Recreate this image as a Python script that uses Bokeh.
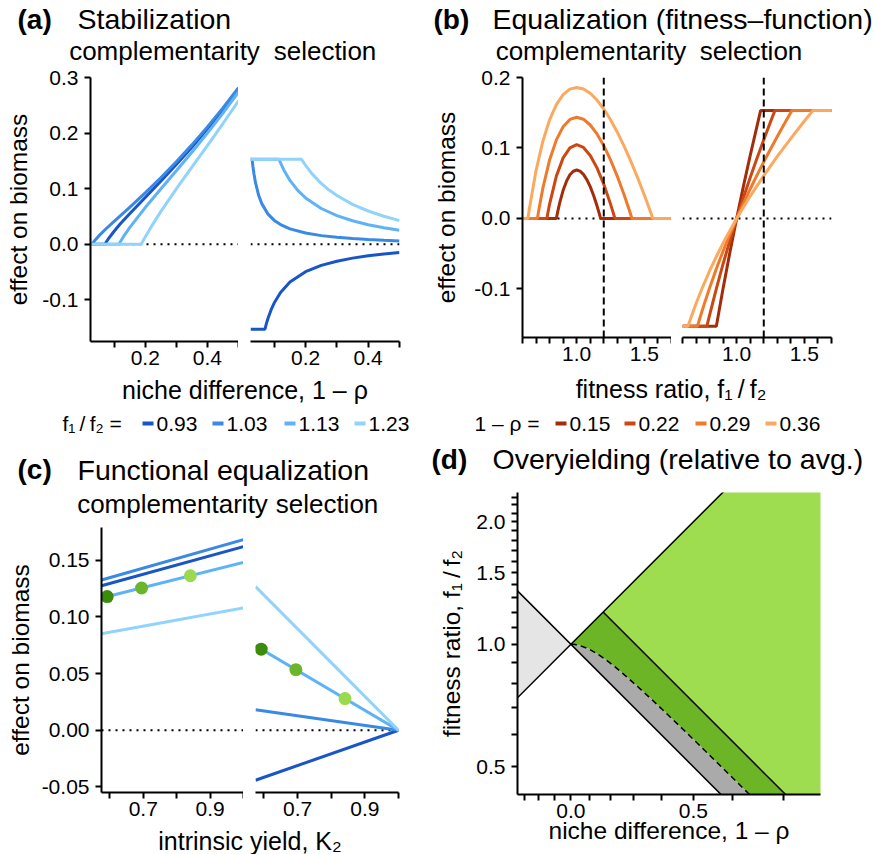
import numpy as np
from bokeh.plotting import figure
from bokeh.layouts import row, column
from bokeh.models import Range1d, FixedTicker, PrintfTickFormatter, CustomJSTickFormatter, Span
from bokeh.core.properties import value
from bokeh.embed import file_html
from bokeh.resources import INLINE

FONT = "Liberation Sans"

# ---------------- data ----------------
FIT_RATIOS = ["0.93", "1.03", "1.13", "1.23"]
BLUES = ["#1955c6", "#3a89e4", "#5db3f5", "#91d3fb"]
NICHE_DIFFS = ["0.15", "0.22", "0.29", "0.36"]
ORANGES = ["#a32d0a", "#cc4711", "#ef7a2c", "#fba95f"]
DOT_GREENS = ["#3c8c0c", "#6ab52a", "#9bd94f"]

# (a) complementarity vs niche difference (one list per fitness ratio)
A_COMP_X = [
    [0.024, 0.07, 0.08, 0.10, 0.12, 0.15, 0.20, 0.25, 0.30, 0.35, 0.40, 0.45, 0.50],
    [0.024, 0.029, 0.035, 0.04, 0.05, 0.075, 0.10, 0.15, 0.20, 0.25, 0.30, 0.35, 0.40, 0.45, 0.50],
    [0.024, 0.115, 0.13, 0.15, 0.20, 0.25, 0.30, 0.35, 0.40, 0.45, 0.50],
    [0.024, 0.187, 0.20, 0.22, 0.25, 0.30, 0.35, 0.40, 0.45, 0.50],
]
A_COMP_Y = [
    [0, 0, 0.0086, 0.0234, 0.0367, 0.0550, 0.0842, 0.1133, 0.1433, 0.1746, 0.2076, 0.2424, 0.2794],
    [0, 0, 0.0047, 0.0082, 0.0145, 0.0283, 0.0411, 0.0664, 0.0925, 0.1197, 0.1485, 0.1788, 0.2111, 0.2453, 0.2818],
    [0, 0, 0.0136, 0.0299, 0.0660, 0.0993, 0.1321, 0.1654, 0.1999, 0.2359, 0.2739],
    [0, 0, 0.0132, 0.0321, 0.0586, 0.0995, 0.1387, 0.1776, 0.2172, 0.2580],
]
# (a) selection vs niche difference
A_SEL_X = [
    [0.024, 0.07, 0.075, 0.08, 0.09, 0.10, 0.12, 0.15, 0.20, 0.25, 0.30, 0.35, 0.40, 0.45, 0.50],
    [0.024, 0.029, 0.032, 0.035, 0.04, 0.05, 0.06, 0.08, 0.10, 0.12, 0.15, 0.20, 0.25, 0.30, 0.35, 0.40, 0.45, 0.50],
    [0.024, 0.115, 0.12, 0.13, 0.15, 0.175, 0.20, 0.25, 0.30, 0.35, 0.40, 0.45, 0.50],
    [0.024, 0.187, 0.20, 0.22, 0.25, 0.275, 0.30, 0.35, 0.40, 0.45, 0.50],
]
A_SEL_Y = [
    [-0.153, -0.153, -0.1424, -0.1331, -0.1177, -0.1053, -0.0867, -0.0681, -0.0494, -0.0381, -0.0305, -0.0250, -0.0208, -0.0175, -0.0148],
    [0.153, 0.153, 0.1390, 0.1269, 0.1108, 0.0881, 0.0731, 0.0542, 0.0429, 0.0353, 0.0277, 0.0201, 0.0155, 0.0124, 0.0102, 0.0085, 0.0071, 0.0060],
    [0.153, 0.153, 0.1462, 0.1342, 0.1148, 0.0968, 0.0833, 0.0643, 0.0515, 0.0422, 0.0351, 0.0296, 0.0250],
    [0.153, 0.153, 0.1418, 0.1271, 0.1094, 0.0975, 0.0876, 0.0718, 0.0598, 0.0503, 0.0425],
]

# (b) complementarity vs fitness ratio (one list per niche difference)
B_COMP_X = [
    [0.60, 0.85, 0.86, 0.875, 0.90, 0.925, 0.95, 0.975, 1.00, 1.025, 1.05, 1.075, 1.10, 1.125, 1.15, 1.165, 1.1765, 1.70],
    [0.60, 0.78, 0.79, 0.80, 0.85, 0.90, 0.95, 1.00, 1.05, 1.10, 1.15, 1.20, 1.25, 1.27, 1.282, 1.70],
    [0.60, 0.71, 0.72, 0.75, 0.80, 0.85, 0.90, 0.95, 1.00, 1.05, 1.10, 1.15, 1.20, 1.25, 1.30, 1.35, 1.39, 1.408, 1.70],
    [0.60, 0.64, 0.65, 0.70, 0.75, 0.80, 0.85, 0.90, 0.95, 1.00, 1.05, 1.10, 1.15, 1.20, 1.25, 1.30, 1.35, 1.40, 1.45, 1.50, 1.54, 1.5625, 1.70],
]
B_COMP_Y = [
    [0, 0, 0.0096, 0.0224, 0.0399, 0.0529, 0.0619, 0.0670, 0.0687, 0.0671, 0.0625, 0.0551, 0.0451, 0.0326, 0.0179, 0.0081, 0, 0],
    [0, 0, 0.0105, 0.0203, 0.0600, 0.0859, 0.1002, 0.1047, 0.1007, 0.0894, 0.0717, 0.0485, 0.0203, 0.0078, 0, 0],
    [0, 0, 0.0116, 0.0426, 0.0830, 0.1115, 0.1302, 0.1405, 0.1436, 0.1408, 0.1326, 0.1199, 0.1032, 0.0830, 0.0597, 0.0336, 0.0109, 0, 0],
    [0, 0, 0.0129, 0.0679, 0.1094, 0.1400, 0.1616, 0.1757, 0.1835, 0.1859, 0.1837, 0.1776, 0.1680, 0.1553, 0.1400, 0.1224, 0.1026, 0.0810, 0.0577, 0.0329, 0.0121, 0, 0],
]
# (b) selection vs fitness ratio
B_SEL_X = [
    [0.60, 0.85, 0.90, 0.95, 1.00, 1.05, 1.10, 1.1765, 1.70],
    [0.60, 0.78, 0.80, 0.85, 0.90, 0.95, 1.00, 1.05, 1.10, 1.15, 1.20, 1.25, 1.282, 1.70],
    [0.60, 0.71, 0.75, 0.80, 0.85, 0.90, 0.95, 1.00, 1.05, 1.10, 1.15, 1.20, 1.25, 1.30, 1.35, 1.408, 1.70],
    [0.60, 0.64, 0.70, 0.75, 0.80, 0.85, 0.90, 1.00, 1.10, 1.20, 1.30, 1.40, 1.50, 1.5625, 1.70],
]
B_SEL_Y = [
    [-0.153, -0.153, -0.0989, -0.0481, 0, 0.0458, 0.0895, 0.153, 0.153],
    [-0.153, -0.153, -0.1371, -0.0995, -0.0643, -0.0313, 0, 0.0297, 0.0582, 0.0855, 0.1117, 0.1371, 0.153, 0.153],
    [-0.153, -0.153, -0.1278, -0.0986, -0.0715, -0.0462, -0.0225, 0, 0.0214, 0.0418, 0.0614, 0.0803, 0.0986, 0.1163, 0.1335, 0.153, 0.153],
    [-0.153, -0.153, -0.1208, -0.0967, -0.0746, -0.0541, -0.0350, 0, 0.0317, 0.0608, 0.0880, 0.1137, 0.1382, 0.153, 0.153],
]
B_REF_RATIO = 1.2

# (c) effects vs intrinsic yield K2 (one pair per fitness ratio)
C_K2 = [0.575, 1.0]
C_COMP = [[0.1276, 0.1621], [0.1326, 0.1683], [0.1167, 0.1482], [0.0851, 0.1080]]
C_SEL = [[-0.0442, 0.0], [0.0180, 0.0], [0.0746, 0.0], [0.1269, 0.0]]
C_DOT_K2 = [0.592, 0.695, 0.841]
C_DOT_COMP = [0.1180, 0.1256, 0.1364]
C_DOT_SEL = [0.0716, 0.0535, 0.0279]

# (d) regions in (niche difference, fitness ratio)
D_DASH_ND = [0.0, 0.0247, 0.0488, 0.0952, 0.1393, 0.1813, 0.2212, 0.2592, 0.3297, 0.3935, 0.4512, 0.5034, 0.5507, 0.5934, 0.6321, 0.6671]
D_DASH_FR = [1.0, 0.9983, 0.9932, 0.9745, 0.9472, 0.9148, 0.8798, 0.8437, 0.7718, 0.7031, 0.6391, 0.5802, 0.5262, 0.4770, 0.4321, 0.3914]
D_LINE_ND = [-0.4, 0.8]
D_UPPER_FR = [0.714, 5.0]
D_LOWER_FR = [1.4, 0.2]
D_EDGE_ND = [0.1669, 0.8]
D_EDGE_FR = [1.2, 0.2882]
D_PRIORITY_ND = [-0.4, 0.0, -0.4]
D_PRIORITY_FR = [1.4, 1.0, 0.714]
D_LOWER_END_FR = 0.3329
D_XLIM = [-0.3526, 0.7566]
D_YLIM = [0.4274, 2.361]
D_XT_MAJOR = [0.0, 0.5]
D_XT_MINOR = [-0.3, -0.2, -0.1, 0.1, 0.2, 0.3, 0.4, 0.6, 0.7]
D_YT_MAJOR = [0.5, 1.0, 1.5, 2.0]
D_YT_MINOR = [0.6, 0.7, 0.8, 0.9, 1.1, 1.2, 1.3, 1.4, 1.6, 1.7, 1.8, 1.9, 2.1, 2.2, 2.3]


# ---------------- helpers ----------------
def base_fig(fw, fh, xr, yr, bl, br, bt, bb, show_y=True):
    p = figure(frame_width=fw, frame_height=fh, x_range=Range1d(*xr), y_range=Range1d(*yr),
               min_border_left=bl, min_border_right=br, min_border_top=bt, min_border_bottom=bb,
               toolbar_location=None, output_backend="svg",
               y_axis_location="left" if show_y else None)
    p.outline_line_color = None
    p.xgrid.visible = False
    p.ygrid.visible = False
    for ax in p.axis:
        ax.axis_line_width = 2
        ax.axis_line_color = "black"
        ax.major_tick_line_width = 2
        ax.minor_tick_line_width = 2
        ax.major_tick_in = 0
        ax.minor_tick_in = 0
        ax.major_tick_out = 6
        ax.minor_tick_out = 6
        ax.major_label_text_font = FONT
        ax.major_label_text_font_size = "21px"
        ax.major_label_text_color = "black"
        ax.major_label_standoff = 3
        ax.axis_label_text_font = FONT
        ax.axis_label_text_font_size = "24.5px"
        ax.axis_label_text_font_style = "normal"
        ax.axis_label_text_color = "black"
    for ax in p.yaxis:
        ax.major_label_standoff = 6
    return p


def strip(w, h):
    p = figure(frame_width=w, frame_height=h, x_range=Range1d(0, w), y_range=Range1d(h, 0),
               min_border=0, toolbar_location=None, output_backend="svg",
               x_axis_location=None, y_axis_location=None)
    p.outline_line_color = None
    p.xgrid.visible = False
    p.ygrid.visible = False
    return p


def put_text(p, xs, ys, texts, size, align="left", style="normal"):
    p.text(x=xs, y=ys, text=texts, text_font=value(FONT), text_font_size=size,
           text_align=align, text_baseline="middle", text_font_style=style, text_color="black")


def zero_line(p):
    p.add_layout(Span(location=0, dimension="width", line_color="black", line_width=2,
                      line_dash="2 5", level="underlay"))


def legend_strip(p, label, label_x, entries, colors, xs, y):
    put_text(p, [label_x], [y], [label], "21px")
    p.segment(x0=[x - 14 for x in xs], y0=[y] * len(xs), x1=[x - 3 for x in xs], y1=[y] * len(xs),
              line_color=colors, line_width=4)
    put_text(p, xs, [y] * len(xs), entries, "21px")


# ---------------- panel (a) ----------------
A_XR = (0.024, 0.5)
A_YR = (-0.175, 0.3)
pAL = base_fig(148, 264, A_XR, A_YR, 90, 0, 12, 34)
pAR = base_fig(149, 264, A_XR, A_YR, 12, 31, 12, 34, show_y=False)
for p in (pAL, pAR):
    p.xaxis.ticker = FixedTicker(ticks=[0.2, 0.4], minor_ticks=[0.1, 0.3, 0.5])
    p.xaxis.formatter = PrintfTickFormatter(format="%.1f")
    zero_line(p)
pAL.yaxis.ticker = FixedTicker(ticks=[-0.1, 0.0, 0.1, 0.2, 0.3])
pAL.yaxis.formatter = PrintfTickFormatter(format="%.1f")
pAL.yaxis.axis_label = "effect on biomass"
pAL.yaxis.axis_label_standoff = 7
for i in range(4):
    pAL.line(A_COMP_X[i], A_COMP_Y[i], line_color=BLUES[i], line_width=3)
    pAR.line(A_SEL_X[i], A_SEL_Y[i], line_color=BLUES[i], line_width=3)

hA = strip(430, 65)
put_text(hA, [17], [18.5], ["(a)"], "28px", style="bold")
put_text(hA, [77], [18.5], ["Stabilization"], "28.5px")
put_text(hA, [164, 324.5], [50.5, 50.5], ["complementarity", "selection"], "26px", align="center")
fA = strip(430, 65)
put_text(fA, [244.5], [14], ["niche difference, 1 \u2013 \u03c1"], "25px", align="center")
legend_strip(fA, "f\u2081\u2009/\u2009f\u2082 =", 62, FIT_RATIOS, BLUES, [156, 226, 298, 368], 48)

# ---------------- panel (b) ----------------
B_XR = (0.6, 1.7)
B_YR = (-0.169, 0.2)
pBL = base_fig(149, 260, B_XR, B_YR, 86, 0, 12, 34)
pBR = base_fig(149, 260, B_XR, B_YR, 11, 49, 12, 34, show_y=False)
for p in (pBL, pBR):
    p.xaxis.ticker = FixedTicker(ticks=[1.0, 1.5], minor_ticks=[0.6, 0.7, 0.8, 0.9, 1.1, 1.2, 1.3, 1.4, 1.6, 1.7])
    p.xaxis.formatter = PrintfTickFormatter(format="%.1f")
    zero_line(p)
pBL.yaxis.ticker = FixedTicker(ticks=[-0.1, 0.0, 0.1, 0.2])
pBL.yaxis.formatter = PrintfTickFormatter(format="%.1f")
pBL.yaxis.axis_label = "effect on biomass"
pBL.yaxis.axis_label_standoff = 11
for i in range(4):
    pBL.line(B_COMP_X[i], B_COMP_Y[i], line_color=ORANGES[i], line_width=3)
    pBR.line(B_SEL_X[i], B_SEL_Y[i], line_color=ORANGES[i], line_width=3)
for p in (pBL, pBR):
    p.add_layout(Span(location=B_REF_RATIO, dimension="height", line_color="black",
                      line_width=2, line_dash="7 4"))

hB = strip(444, 65)
put_text(hB, [3], [18.5], ["(b)"], "28px", style="bold")
put_text(hB, [62], [18.5], ["Equalization (fitness\u2013function)"], "28.5px")
put_text(hB, [160.5, 320.5], [50.5, 50.5], ["complementarity", "selection"], "26px", align="center")
fB = strip(444, 69)
put_text(fB, [240.5], [17], ["fitness ratio, f\u2081\u2009/\u2009f\u2082"], "25px", align="center")
legend_strip(fB, "1 \u2013 \u03c1 =", 44, NICHE_DIFFS, ORANGES, [139, 208, 279, 349], 52)

# ---------------- panel (c) ----------------
C_XR = (0.575, 1.0)
C_YR = (-0.055, 0.179)
pCL = base_fig(142, 265, C_XR, C_YR, 101, 0, 9, 34)
pCR = base_fig(143, 265, C_XR, C_YR, 12, 32, 9, 34, show_y=False)
for p in (pCL, pCR):
    p.xaxis.ticker = FixedTicker(ticks=[0.7, 0.9], minor_ticks=[0.6, 0.8, 1.0])
    p.xaxis.formatter = PrintfTickFormatter(format="%.1f")
    zero_line(p)
pCL.yaxis.ticker = FixedTicker(ticks=[-0.05, 0.0, 0.05, 0.10, 0.15])
pCL.yaxis.formatter = PrintfTickFormatter(format="%.2f")
pCL.yaxis.axis_label = "effect on biomass"
pCL.yaxis.axis_label_standoff = 5
for i in range(4):
    pCL.line(C_K2, C_COMP[i], line_color=BLUES[i], line_width=3)
    pCR.line(C_K2, C_SEL[i], line_color=BLUES[i], line_width=3)
pCL.scatter(C_DOT_K2, C_DOT_COMP, size=13, fill_color=DOT_GREENS, line_color=None)
pCR.scatter(C_DOT_K2, C_DOT_SEL, size=13, fill_color=DOT_GREENS, line_color=None)

hC = strip(430, 78)
put_text(hC, [17], [29], ["(c)"], "28px", style="bold")
put_text(hC, [77], [29], ["Functional equalization"], "28.5px")
put_text(hC, [172, 326.5], [63, 63], ["complementarity", "selection"], "26px", align="center")
fC = strip(430, 28)
put_text(fC, [249.5], [14], ["intrinsic yield, K\u2082"], "25px", align="center")

# ---------------- panel (d) ----------------
def to_x(d):
    return -np.log(1.0 - np.asarray(d, dtype=float))


def to_y(f):
    return np.log(np.asarray(f, dtype=float))


D_XR = tuple(float(v) for v in to_x(D_XLIM))
D_YR = tuple(float(v) for v in to_y(D_YLIM))
pD = base_fig(303, 302, D_XR, D_YR, 87, 54, 12, 60)
pD.xaxis.ticker = FixedTicker(ticks=[float(v) + 0.0 for v in to_x(D_XT_MAJOR)],
                              minor_ticks=[float(v) for v in to_x(D_XT_MINOR)])
pD.xaxis.formatter = CustomJSTickFormatter(code="return (1 - Math.exp(-tick)).toFixed(1);")
pD.yaxis.ticker = FixedTicker(ticks=[float(v) + 0.0 for v in to_y(D_YT_MAJOR)],
                              minor_ticks=[float(v) for v in to_y(D_YT_MINOR)])
pD.yaxis.formatter = CustomJSTickFormatter(code="return Math.exp(tick).toFixed(1);")
pD.xaxis.axis_label = "niche difference, 1 \u2013 \u03c1"
pD.yaxis.axis_label = "fitness ratio, f\u2081\u2009/\u2009f\u2082"
pD.xaxis.axis_label_standoff = -4
pD.yaxis.axis_label_standoff = 8

light_green_nd = [D_EDGE_ND[0], D_LINE_ND[1], D_EDGE_ND[1]]
light_green_fr = [D_EDGE_FR[0], D_UPPER_FR[1], D_EDGE_FR[1]]
dark_green_nd = [0.0, D_EDGE_ND[0], D_EDGE_ND[1]] + D_DASH_ND[::-1]
dark_green_fr = [1.0, D_EDGE_FR[0], D_EDGE_FR[1]] + D_DASH_FR[::-1]
gray_nd = D_DASH_ND + [D_DASH_ND[-1]]
gray_fr = D_DASH_FR + [D_LOWER_END_FR]

pD.patch(to_x(D_PRIORITY_ND), to_y(D_PRIORITY_FR), fill_color="#e5e5e5", line_color=None)
pD.patch(to_x(light_green_nd), to_y(light_green_fr), fill_color="#9edd50", line_color=None)
pD.patch(to_x(dark_green_nd), to_y(dark_green_fr), fill_color="#6bb526", line_color=None)
pD.patch(to_x(gray_nd), to_y(gray_fr), fill_color="#aaaaaa", line_color=None)
pD.line(to_x(D_LINE_ND), to_y(D_UPPER_FR), line_color="black", line_width=1.5)
pD.line(to_x(D_LINE_ND), to_y(D_LOWER_FR), line_color="black", line_width=1.5)
pD.line(to_x(D_EDGE_ND), to_y(D_EDGE_FR), line_color="black", line_width=1.5)
pD.line(to_x(D_DASH_ND), to_y(D_DASH_FR), line_color="black", line_width=1.5, line_dash="6 4")

hD = strip(444, 40)
put_text(hD, [1], [18.5], ["(d)"], "28px", style="bold")
put_text(hD, [62], [18.5], ["Overyielding (relative to avg.)"], "28.5px")

# ---------------- layout ----------------
colA = column(hA, row(pAL, pAR), fA)
colB = column(hB, row(pBL, pBR), fB)
colC = column(hC, row(pCL, pCR), fC)
colD = column(hD, row(pD))
layout = column(row(colA, colB), row(colC, colD))

open("out.html", "w").write(file_html(layout, INLINE))
